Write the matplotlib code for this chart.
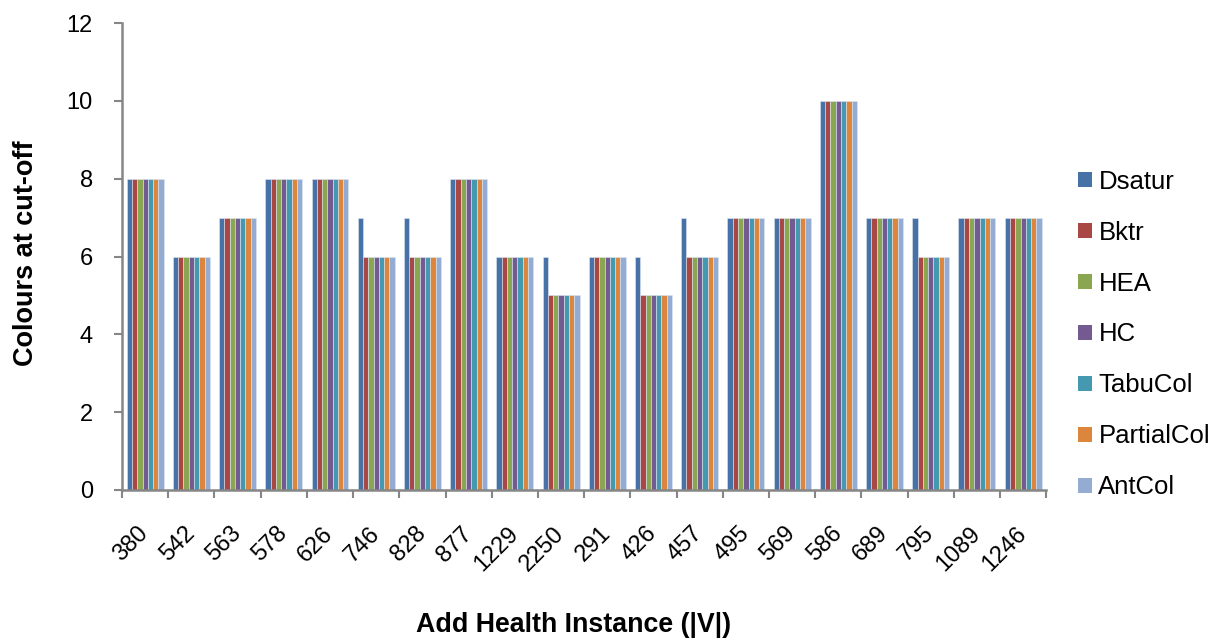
import numpy as np
import matplotlib.pyplot as plt
from matplotlib.patches import Patch

plt.rcParams["font.family"] = ["Liberation Sans", "DejaVu Sans"]

instances = ["380", "542", "563", "578", "626", "746", "828", "877", "1229", "2250",
             "291", "426", "457", "495", "569", "586", "689", "795", "1089", "1246"]
algorithms = ["Dsatur", "Bktr", "HEA", "HC", "TabuCol", "PartialCol", "AntCol"]

dsatur = [8, 6, 7, 8, 8, 7, 7, 8, 6, 6, 6, 6, 7, 7, 7, 10, 7, 7, 7, 7]
bktr = [8, 6, 7, 8, 8, 6, 6, 8, 6, 5, 6, 5, 6, 7, 7, 10, 7, 6, 7, 7]
hea = [8, 6, 7, 8, 8, 6, 6, 8, 6, 5, 6, 5, 6, 7, 7, 10, 7, 6, 7, 7]
hc = [8, 6, 7, 8, 8, 6, 6, 8, 6, 5, 6, 5, 6, 7, 7, 10, 7, 6, 7, 7]
tabucol = [8, 6, 7, 8, 8, 6, 6, 8, 6, 5, 6, 5, 6, 7, 7, 10, 7, 6, 7, 7]
partialcol = [8, 6, 7, 8, 8, 6, 6, 8, 6, 5, 6, 5, 6, 7, 7, 10, 7, 6, 7, 7]
antcol = [8, 6, 7, 8, 8, 6, 6, 8, 6, 5, 6, 5, 6, 7, 7, 10, 7, 6, 7, 7]

series = [dsatur, bktr, hea, hc, tabucol, partialcol, antcol]
colors = ["#4672A8", "#A94744", "#8BA650", "#735A91", "#4498B0", "#DC853C", "#94ABD2"]

axis_grey = "#868686"

fig = plt.figure(figsize=(12.29, 6.42), dpi=100)
ax = fig.add_axes([0.0993, 0.2368, 0.752, 0.7272])

x = np.arange(len(instances))
group = 0.8
w = group / len(series)
for i, (vals, c) in enumerate(zip(series, colors)):
    ax.bar(x - group / 2 + w * (i + 0.5), vals, width=w, color=c,
           edgecolor="#dce6f2", linewidth=0.4, zorder=2)

ax.set_xlim(-0.5, len(instances) - 0.5)
ax.set_ylim(0, 12)
ax.set_yticks(range(0, 13, 2))
ax.tick_params(axis="y", labelsize=17, length=6, width=1.5, color=axis_grey, pad=15)

# category labels at centers, tick marks between categories
ax.set_xticks(x)
ax.set_xticklabels(instances, rotation=45, ha="right", va="center",
                   rotation_mode="anchor", fontsize=17)
ax.tick_params(axis="x", length=0, pad=29)
ax.set_xticks(np.arange(-0.5, len(instances), 1.0), minor=True)
ax.tick_params(axis="x", which="minor", length=6, width=1.5, color=axis_grey)

for side in ["top", "right"]:
    ax.spines[side].set_visible(False)
for side in ["left", "bottom"]:
    ax.spines[side].set_color(axis_grey)
    ax.spines[side].set_linewidth(1.8)

fig.text(0.021, 0.605, "Colours at cut-off", rotation=90, ha="center", va="center",
         fontsize=19.5, fontweight="bold")
fig.text(0.4667, 0.0265, "Add Health Instance (|V|)", ha="center", va="center",
         fontsize=19.3, fontweight="bold")

handles = [Patch(facecolor=c, edgecolor="none", label=a) for a, c in zip(algorithms, colors)]
fig.legend(handles=handles, loc="center left", bbox_to_anchor=(0.877, 0.479),
           frameon=False, fontsize=18.5, handlelength=0.55, handleheight=0.55,
           handletextpad=0.25, labelspacing=1.05, borderpad=0, borderaxespad=0)

fig.savefig("out.png", dpi=100)
plt.close(fig)
